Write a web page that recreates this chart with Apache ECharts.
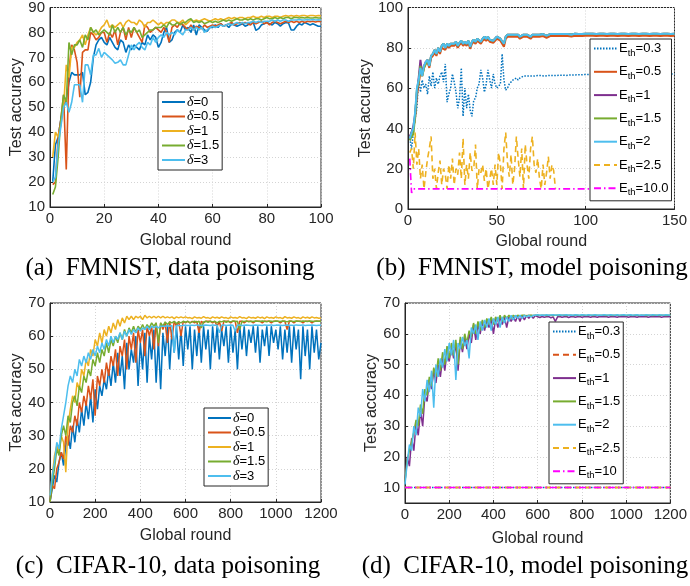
<!DOCTYPE html>
<html><head><meta charset="utf-8">
<script src="https://cdn.jsdelivr.net/npm/echarts@6/dist/echarts.min.js"></script>
<style>html,body{margin:0;padding:0;background:#fff}#c{width:690px;height:586px}</style>
</head><body><div id="c"></div>
<script>
// ---------- (a) FMNIST, data poisoning : rounds 1..100 ----------
const aD0 = [20,35,38,45,50,53,60,64,63,63, 63,64,55,56,60,70,75,77,78,76, 75,78,76,74,73,77,76,72,75,73, 75,74,73,76,75,79,77,79,78,74, 76,80,82,76,77,80,81,80,83,81, 82,80,83,79,83,82,81,80.5,82,82, 83,82,83.5,82.5,83,82,83.5,83,82.5,83, 83.5,82.5,83,84,84,80.8,81.5,83,83.5,84, 83.5,83,84,83.5,82.5,83.5,84,83.8,81,81, 82.5,83.5,83,84,83.5,83,83.5,83,82.5,82.5];
const aD05 = [19,20,38,45,55,25,65,75,73,68, 54,72,73,73,80,79,77,78,80,80, 76,80,78,81,75,80,82,77,82,78, 82,80,78,76,83,82,80,81,82,81, 80,82,80,76,82,83,82,84,83,82, 81,83,81,82.5,82,81.5,83,82,82.5,83, 82.5,83,83.5,82.5,83,83.5,84,83,83.5,84, 83.5,84,83.5,83,84,83.5,84,84.5,83.5,84, 83,84,84.5,84,83.5,84,84.5,84,84.5,84, 84.5,84,84.5,84,84.5,84.3,84.5,84.2,84.5,84.3];
const aD1 = [30,40,38,43,50,67,62,74,74,76, 77,79,75,79,82,80,79,80,82,83, 85,82,83,82,83,84,82,84,85,84, 84,83,85,84,82,84,84,85,84,83, 84,83,84,84,85,85,84,84,85,83, 84,85,84.5,85,84.5,85,85.5,85,84.5,85, 85.5,85,85.5,85,85.5,86,85.5,86,85.5,86, 86,85.5,86,86,86.5,86,86,86.5,86,86.5, 86.5,86,86.5,86.5,86,86.5,86.8,86.5,86.8,86.5, 86.8,86.5,86.8,86.8,86.5,86.8,86.8,86.6,86.8,86.7];
const aD15 = [15,18,30,45,55,52,76,71,75,75, 77,74,79,77,82,80,81,79,80,81, 80,79,83,80,82,80,82,79,81,80, 82,80,81,78,79,80,81,81,82,82, 82,83,82,84,83,83,84,83,84,84, 85,85.5,84,84.5,84,84.5,83.5,84,84.5,84, 84.5,84,84.5,85,84.5,85,84.5,85,85.5,85, 85,85.5,85,85.5,85,85.5,85.5,85,85.5,86, 85.5,85.5,86,85.5,86,85.5,86,86,85.5,86, 86,85.8,86,85.8,86,85.8,85.8,86,85.8,85.8];
const aD3 = [20,22,35,42,50,52,48,52,59,59, 59,52,67,67,63,71,71,73.6,70,72, 71,70,69,67.6,68,69,67,67,71,75, 73,75,76,74,73,76,75,78,76,78, 79,78,80,79,80,79,81,80,79,81, 81,82,81,82,81,82,80,81,82,82.5, 82,82.5,83,82.5,83,83.5,83,83.5,84,83.5, 84,83.5,84,84,84.5,84,84.5,84,84.5,84.5, 84.5,85,84.5,85,84.5,85,85,84.5,85,85, 85,85.2,85,85,85.2,85,85.2,85,85.1,85];

// ---------- (b) FMNIST, model poisoning : rounds 1..150 ----------
const bE03 = [35,30,38,45,50,65,58,64,60,62, 57,66,61,68,60,65,62,66,68,63, 72,53,57,60,67,63,58,50,55,70, 46,60,50,57,49,46,54,55,60,62, 69,65,58,62,69,64,60,67,62,60, 61,62,77,64,59,60,62,63,64,64, 65,64,65,65,66,65.5,66,66,66,66, 66,66,66.2,66,66.2,66.2,66,66.2,66.3,66.2, 66.3,66.3,66.2,66.3,66.4,66.3,66.4,66.4,66.3,66.4, 66.5,66.4,66.5,66.5,66.6,66.5,66.6,66.6,66.7,66.7, 66.7,66.8,66.8,66.8,66.8,66.9,66.9,66.9,66.9,67, 67,67,67,67,67,67,67,67,67,67, 67,67,67,67,67,67,67,67,67,67, 67,67,67,67,67,67,67,67,67,67, 67,67,67,67,67,67,67,67,67,67];
const bE05 = [35,38,40,45,56,62,68,66,70,72, 73,70,75,76,77.5,76,79,77,80,80.5, 79,81,80,81,80.5,81,82,80,81.5,82.5, 81,82,81,82.5,79.5,82,83,82,83.5,83, 82,83.5,84.5,83.5,84.5,83,83.5,82.5,83.5,84.5, 84,83.5,83,80.5,84.5,85.5,85,85.5,85,85.5, 85,85.5,84.5,85,85.5,85,85.5,85,84.5,85.5, 85,85.5,85,85.5,85,85.8,85.5,85,85.5,85.8, 85.5,85.8,85.5,85.8,85.6,85.8,85.5,85.8,85.8,85.8, 85.8,85.6,85.8,86,85.8,85.8,86,85.8,85.8,86, 85.9,86,85.9,86,86,85.9,86,86,85.9,86, 86,85.9,86,86,85.9,86,86,85.9,86,86, 85.9,86,86,85.9,86,86,85.9,86,86,85.9, 86,86,85.9,86,86,85.9,86,86,85.9,86, 86,85.9,86,86,85.9,86,86,85.9,86,86];
const bE1 = [36,38,41,47,58,65,74,67,71,73, 74,71,76,77,79,77,80,78,81,82, 80,82,81,82,81.5,82,83,81,82.5,83.5, 82,83,82,83.5,80.5,83,84,83,84.5,84, 83,84.5,85.5,84.5,85.5,84,84.5,83.5,84.5,85.5, 85,84.5,84,82,85.5,86.5,86,86.5,86,86.5, 86,86.5,85.5,86,86.5,86,86.5,86,85.5,86.5, 86,86.5,86,86.5,86,86.8,86.5,86,86.5,86.8, 86.5,86.8,86.5,86.8,86.6,86.8,86.5,86.8,86.8,86.8, 86.8,86.6,86.8,87,86.8,86.8,87,86.8,86.8,87, 86.9,87,86.9,87,87,86.9,87,87,86.9,87, 87,86.9,87,87,86.9,87,87,86.9,87,87, 86.9,87,87,86.9,87,87,86.9,87,87,86.9, 87,87,86.9,87,87,86.9,87,87,86.9,87, 87,86.9,87,87,86.9,87,87,86.9,87,87];
const bE15 = [34,36,37,46,59,63,71,66,70,72, 74,71,76,77,79,77,80,78,81,82, 80,82,81,82,81.5,82,83,81,82.5,83.5, 82,83,82,83.5,80.5,83,84,83,84.5,84, 83,84.5,85.5,84.5,85.5,84,84.5,83.5,84.5,85.5, 85,84.5,84,82,85.5,86.5,86,86.5,86,86.5, 86,86.5,85.5,86,86.5,86,86.5,86,85.5,86.5, 86,86.5,86,86.5,86,86.8,86.5,86,86.5,86.8, 86.5,86.8,86.5,86.8,86.6,86.8,86.5,86.8,86.8,86.8, 86.8,86.6,86.8,87,86.8,86.8,87,86.8,86.8,87, 86.9,87,86.9,87,87,86.9,87,87,86.9,87, 87,86.9,87,87,86.9,87,87,86.9,87,87, 86.9,87,87,86.9,87,87,86.9,87,87,86.9, 87,87,86.9,87,87,86.9,87,87,86.9,87, 87,86.9,87,87,86.9,87,87,86.9,87,87];
const bE2 = [35,38,40,48,60,64,70,66,71,73, 74,71,76,77,79,77,80,78,81,82, 80,82,81,82,81.5,82,83,81,82.5,83.5, 82,83,82,83.5,80.5,83,84,83,84.5,84, 83,84.5,85.5,84.5,85.5,84,84.5,83.5,84.5,85.5, 85,84.5,84,82,85.5,86.5,86,86.5,86,86.5, 86,86.5,85.5,86,86.5,86,86.5,86,85.5,86.5, 86,86.5,86,86.5,86,86.8,86.5,86,86.5,86.8, 86.5,86.8,86.5,86.8,86.6,86.8,86.5,86.8,86.8,86.8, 86.8,86.6,86.8,87,86.8,86.8,87,86.8,86.8,87, 86.9,87,86.9,87,87,86.9,87,87,86.9,87, 87,86.9,87,87,86.9,87,87,86.9,87,87, 86.9,87,87,86.9,87,87,86.9,87,87,86.9, 87,87,86.9,87,87,86.9,87,87,86.9,87, 87,86.9,87,87,86.9,87,87,86.9,87,87];
const bE25 = [28,30,20,38,22,30,15,22,10,18, 25,30,36,15,20,10,18,24,12,20, 17,10,22,15,25,12,20,17,28,15, 35,12,22,15,28,19,20,32,10,20, 18,22,14,20,10,15,20,12,22,12, 28,22,10,30,38,23,16,27,12,20, 36,25,16,30,10,32,22,15,30,36, 22,18,25,15,10,22,12,18,26,15, 22,19,10];
const bE10Rounds = [1,2,3,150];
const bE10 = [25,8,10,10];

// ---------- (c) CIFAR-10, data poisoning : rounds 0,10,...,1200 ----------
const cD0 = [10,14,18,16,22,25,21,27,30,26, 33,28,35,31,38,33,40,35,42,34, 44,38,45,42,47,44,50,45,52,46, 55,48,54,44,58,50,56,52,60,45, 58,50,61,46,60,53,62,46,59,44, 61,54,63,50,62,55,63,53,62,51, 63,56,63,50,62,54,63,52,63,56, 62,50,63,55,63,53,62,57,63,52, 63,55,62,50,63,56,63,54,62,58, 63,55,63,52,62,57,63,54,63,58, 62,56,63,53,62,55,63,52,63,56, 62,47,63,54,62,50,63,55,62,53, 58];
const cD05 = [10,15,14,20,22,25,23,30,27,33, 31,36,33,40,37,42,39,45,41,47, 36,48,45,50,46,52,48,54,51,56, 48,57,54,59,50,60,56,61,52,62, 58,62,54,63,60,63,56,64,57,64, 62,64,58,64.5,59,64.5,63,64.5,60,64.5, 64,64.5,64,64.5,64,64.5,61,64.5,64,64.5, 64.5,64.5,64,64.5,63,64.5,61.5,64.5,64.5,64.5, 64,64.5,64.5,61,64.5,64.5,64,64.5,64.5,64.5, 64,64.5,64.5,64.5,64,64.5,64.5,64.5,64,64.5, 64.5,64.5,64,64.5,64.5,62,64.5,64.5,64,64.5, 64.5,64.5,64,64.5,64.5,64.5,64,64.5,64.5,64.5, 64.5];
const cD1 = [12,18,24,27,25,30,28,19,33,38, 42,40,46,44,50,48,53,51,56,54, 59,57,61,58,62,60,63,61,64,62, 65,63,65.5,64,66,65,66,65,66,65.5, 66,65,66.3,65.5,66,65.5,66,65.5,66,65.5, 66,65.5,65.8,65.5,65.8,65.3,65.8,65.5,65.8,65.5, 65.8,65.5,65.6,65.3,65.8,65.5,65.6,65.4,65.9,65.5, 65.6,65.3,65.8,65.5,65.7,65.4,65.8,65.5,65.6,65.3, 65.8,65.5,65.6,65.4,65.9,65.5,65.6,65.3,65.8,65.5, 65.6,65.4,65.8,65.5,65.7,65.3,65.8,65.5,65.6,65.4, 65.8,65.5,65.6,65.3,65.9,65.5,65.6,65.4,65.8,65.5, 65.6,65.3,65.8,65.5,65.7,65.4,65.8,65.5,65.6,65.4, 65.5];
const cD15 = [10,16,20,26,24,30,33,30,36,34, 40,42,39,45,43,48,46,50,48,53, 51,55,52,56,54,58,55,59,57,60, 58,61,59,62,60,62.5,61,63,61,63, 62,63.5,62,63.5,62.5,64,63,64,58,64, 63,64.3,63.5,64.3,64,64.5,63.8,64.3,64,64.5, 64.2,64.5,64,64.3,64.5,64.2,64.5,62.5,64.3,64.5, 64.2,64.5,64.3,64.5,64,64.5,64.3,64.6,64.2,64.5, 64.3,64.6,64.4,64.5,62,64.5,64.4,64.6,64.3,64.5, 64.4,64.6,64.5,64.4,64.6,64.5,64.3,64.6,64.5,64.4, 64.6,64.5,64.4,64.6,64.5,64.3,64.6,64.5,64.4,64.6, 64.5,64.4,64.6,64.5,64.4,64.6,64.5,64.4,64.6,64.5, 64.5];
const cD3 = [12,18,22,28,26,32,36,40,45,48, 46,50,48,53,51,54,52,55,53,56, 54,57,55,58,56,59,57,60,58,60, 59,61,59,61.5,60,62,60.5,62,61,62.5, 61.5,62.5,62,63,62,63,62.5,63,62.5,63, 63,63,63.2,63,63.2,55,63.2,63.3,63.1,63.3, 63.3,63.2,63.3,63.3,63.2,63.4,63.3,63.2,63.3,63.4, 63.3,63.2,63.4,63.3,63.3,61,63.3,63.4,63.2,63.3, 63.4,63.3,61.5,63.3,63.4,63.2,63.3,63.4,63.3,63.2, 63.3,63.4,63.3,63.3,63.2,63.4,63.3,63.3,63.4,63.2, 63.3,63.4,63.3,63.2,63.3,63.4,63.3,63.3,63.2,63.4, 63.3,63.3,63.4,63.2,63.3,63.3,63.4,63.3,63.2,63.3, 63.3];

// ---------- (d) CIFAR-10, model poisoning : rounds 0,10,...,1200 ----------
const dE1 = [12,20,17,26,22,31,27,35,30,40, 38,45,42,48,44,50,46,52,48,54, 51,56,52,57,48,58,54,59,55,60, 57,63,58,63,60,64,61,64.5,62,65, 60,65,62,65.5,63,65.5,62,65.5,64,65.5, 64,66,64,66,64.5,66,65,66,65,66, 65.5,65.3,65.6,65.4,65.5,65.6,65.2,65.5,64,65.5, 65.6,65.4,65.5,65.6,65.3,65.5,65.6,65.4,65.5,65.6, 65.4,65.5,65.6,65.5,65.4,65.6,65.5,65.4,65.6,65.5, 65.5,65.6,65.4,65.5,65.6,65.5,65.4,65.6,65.5,65.5, 65.6,65.4,65.5,65.6,65.5,65.4,65.6,65.5,65.5,65.6, 65.4,65.5,65.6,65.5,65.5,65.6,65.4,65.5,65.6,65.5, 65.6];
const dE15 = [12,19,22,25,28,32,30,37,34,42, 40,46,43,49,46,52,48,54,50,56, 52,57,53,58,50,59,55,60,57,61, 59,63.5,60,64,61,64.5,62,65,63,65.5, 63,65.5,64,66,64,66,65,66,65,66, 65.5,66,65.8,66,66,65.8,66,66,65.9,66, 66,65.9,66,66,65.9,66,66,65.9,66,66, 65.9,66,66,65.9,66,66,65.9,66,66,65.9, 66,66,65.9,66,66,65.9,66,66,65.9,66, 66,65.9,66,66,65.9,66,66,65.9,66,66, 65.9,66,66,65.9,66,66,65.9,66,66,65.9, 66,66,65.9,66,66,65.9,66,66,65.9,66, 66];
const dE2 = [11,18,24,22,30,27,36,33,42,38, 45,41,48,36,50,46,52,49,55,51, 57,53,58,45,57,55,59,56,58,52, 62,60,63,58,64,61,64.5,62,65,61, 65,63,65.5,62,65.5,63.5,65.5,64,66,64.5, 66,65,66,65,66,65.5,66,65.5,66,66, 66.2,66,66.1,66,66.2,66,66.1,66.2,66,66.1, 66.2,66,66.1,66.2,66,66.1,66,66.2,66.1,66, 66.2,66.1,66,66.2,66,66.1,66.2,66,66.1,66, 66.2,66.1,66,66.2,66.1,66,66.2,66,66.1,66.2, 66,66.1,66.2,66,66.1,66.2,66,66.1,66,66.2, 66.1,66,66.2,66.1,66,66.2,66.1,66,66.2,66.1, 66];
const dFlatRounds = [0,1200];
const dE03 = [10,10];
const dE05 = [10,10];
const dE25 = [10,10];
const dE10 = [10,10];

// tick labels
const aXTicks = [0,20,40,60,80,100], aYTicks = [10,20,30,40,50,60,70,80,90];
const bXTicks = [0,50,100,150], bYTicks = [0,20,40,60,80,100];
const cXTicks = [0,200,400,600,800,1000,1200], cYTicks = [10,20,30,40,50,60,70];
const dXTicks = [0,200,400,600,800,1000,1200], dYTicks = [10,20,30,40,50,60,70];

const captions = ['(a)  FMNIST, data poisoning','(b)  FMNIST, model poisoning','(c)  CIFAR-10, data poisoning','(d)  CIFAR-10, model poisoning'];

// ---------- build ----------
const C = {blue:'#0072BD', orange:'#D95319', yellow:'#EDB120', purple:'#7E2F8E', green:'#77AC30', cyan:'#4DBEEE', mag:'#FF00FF'};
const seq = (n, f) => Array.from({length:n}, (_, i) => f(i));
const aRounds = seq(100, i => i + 1);
const bRounds = seq(150, i => i + 1);
const cRounds = seq(121, i => i * 10);
const zip = (xs, ys) => ys.map((v, i) => [xs[i], v]);

const labels = {
  a0:'{d|δ}=0', a05:'{d|δ}=0.5', a1:'{d|δ}=1', a15:'{d|δ}=1.5', a3:'{d|δ}=3',
  c0:'{d|δ}=0', c05:'{d|δ}=0.5', c1:'{d|δ}=1', c15:'{d|δ}=1.5', c3:'{d|δ}=3',
  b03:'E{s|th}=0.3', b05:'E{s|th}=0.5', b1:'E{s|th}=1', b15:'E{s|th}=1.5', b2:'E{s|th}=2', b25:'E{s|th}=2.5', b10:'E{s|th}=10.0',
  d03:'E{s|th}=0.3', d05:'E{s|th}=0.5', d1:'E{s|th}=1', d15:'E{s|th}=1.5', d2:'E{s|th}=2', d25:'E{s|th}=2.5', d10:'E{s|th}=10'
};

const FONT = 'Liberation Sans';
const TXT = '#262626';
function line(name, gi, data, color, width, type) {
  return {name, type:'line', xAxisIndex:gi, yAxisIndex:gi, data, symbol:'none', showSymbol:false,
    lineStyle:{color, width, type: type || 'solid'}, itemStyle:{color}, silent:true, animation:false, clip:true};
}
const DOT = [1.5,1.5], DASH = [6,4], DASHDOT = [7,3,1.5,3];

const series = [
  line('a0',0,zip(aRounds,aD0),C.blue,1.6), line('a05',0,zip(aRounds,aD05),C.orange,1.6),
  line('a1',0,zip(aRounds,aD1),C.yellow,1.6), line('a15',0,zip(aRounds,aD15),C.green,1.6),
  line('a3',0,zip(aRounds,aD3),C.cyan,1.6),
  line('b03',1,zip(bRounds,bE03),C.blue,1.5,DOT), line('b05',1,zip(bRounds,bE05),C.orange,2),
  line('b1',1,zip(bRounds,bE1),C.purple,2), line('b15',1,zip(bRounds,bE15),C.green,2),
  line('b2',1,zip(bRounds,bE2),C.cyan,2), line('b25',1,zip(bRounds,bE25),C.yellow,1.6,DASH),
  line('b10',1,zip(bE10Rounds,bE10),C.mag,1.6,DASHDOT),
  line('c0',2,zip(cRounds,cD0),C.blue,1.5), line('c05',2,zip(cRounds,cD05),C.orange,1.5),
  line('c1',2,zip(cRounds,cD1),C.yellow,1.5), line('c15',2,zip(cRounds,cD15),C.green,1.5),
  line('c3',2,zip(cRounds,cD3),C.cyan,1.5),
  line('d03',3,zip(dFlatRounds,dE03),C.blue,1.5,DOT), line('d05',3,zip(dFlatRounds,dE05),C.orange,1.5,DASH),
  line('d1',3,zip(cRounds,dE1),C.purple,1.5), line('d15',3,zip(cRounds,dE15),C.green,1.5),
  line('d2',3,zip(cRounds,dE2),C.cyan,1.5), line('d25',3,zip(dFlatRounds,dE25),C.yellow,1.5,DASH),
  line('d10',3,zip(dFlatRounds,dE10),C.mag,1.5,DASHDOT)
];

const grids = [
  {left:50, top:7, width:271, height:200},
  {left:408, top:7, width:268, height:202},
  {left:50, top:303, width:271, height:199},
  {left:405, top:303, width:271, height:200}
].map(g => Object.assign(g, {show:true, borderColor:TXT, borderWidth:1, backgroundColor:'#fff', containLabel:false}));

function xAxis(gi, ticks, nameGap) {
  return {type:'value', gridIndex:gi, min:ticks[0], max:ticks[ticks.length-1], interval:ticks[1]-ticks[0],
    name:'Global round', nameLocation:'middle', nameGap,
    nameTextStyle:{fontFamily:FONT, fontSize:16, color:TXT},
    axisLine:{show:true, onZero:false, lineStyle:{color:TXT}},
    axisTick:{show:true, inside:true, length:3, lineStyle:{color:TXT}},
    axisLabel:{fontFamily:FONT, fontSize:15, color:TXT, margin:4, showMinLabel:true, showMaxLabel:true, formatter: v => String(v)},
    splitLine:{show:true, lineStyle:{color:'#d4d4d4', type:[1,2], width:1}}};
}
function yAxis(gi, ticks, nameGap, min) {
  const o = {type:'value', gridIndex:gi, min: min !== undefined ? min : ticks[0], max:ticks[ticks.length-1],
    name:'Test accuracy', nameLocation:'middle', nameGap,
    nameTextStyle:{fontFamily:FONT, fontSize:16, color:TXT},
    axisLine:{show:true, onZero:false, lineStyle:{color:TXT}},
    axisTick:{show:true, inside:true, length:3, lineStyle:{color:TXT}},
    axisLabel:{fontFamily:FONT, fontSize:15, color:TXT, margin:5, formatter: v => String(v)},
    splitLine:{show:true, lineStyle:{color:'#d4d4d4', type:[1,2], width:1}}};
  if (min !== undefined) {
    o.axisTick.customValues = ticks;
    o.axisLabel.customValues = ticks;
  } else {
    o.interval = ticks[1]-ticks[0];
  }
  return o;
}

function legend(names, left, top, gap) {
  return {data:names, orient:'vertical', left, top, itemGap:gap, itemWidth:23, itemHeight:10,
    padding: [3,3,3,3], backgroundColor:'#fff', borderColor:TXT, borderWidth:1, borderRadius:0,
    selectedMode:false, formatter: n => labels[n],
    itemStyle:{color:'rgba(0,0,0,0)', borderColor:'rgba(0,0,0,0)', borderWidth:0, opacity:0},
    textStyle:{fontFamily:FONT, fontSize:13, color:'#000', padding:[0,0,0,-3],
      rich:{d:{fontFamily:'Liberation Serif', fontStyle:'italic', fontSize:14, color:'#000'},
            s:{fontFamily:FONT, fontSize:9.5, color:'#000', padding:[9,0,0,0]}}}};
}

const capY = [268, 268, 566, 566], capX = [170, 532, 168, 525];
const option = {
  backgroundColor:'#fff', animation:false,
  grid: grids,
  xAxis: [xAxis(0,aXTicks,26), xAxis(1,bXTicks,25), xAxis(2,cXTicks,26), xAxis(3,dXTicks,28)],
  yAxis: [yAxis(0,aYTicks,22), yAxis(1,bYTicks,27), yAxis(2,cYTicks,22), yAxis(3,dYTicks,22,5)],
  legend: [
    legend(['a0','a05','a1','a15','a3'], 158, 92, 0.5),
    legend(['b03','b05','b1','b15','b2','b25','b10'], 590, 39, 7.3),
    legend(['c0','c05','c1','c15','c3'], 204, 408, 0.5),
    legend(['d03','d05','d1','d15','d2','d25','d10'], 549, 322, 7.3)
  ],
  series,
  graphic: captions.map((t, i) => ({type:'text', x:capX[i], y:capY[i], silent:true,
    style:{text:t, font:'25px "Liberation Serif"', fill:'#000', align:'center', verticalAlign:'middle'}}))
};
const chart = echarts.init(document.getElementById('c'), null, {renderer:'canvas'});
chart.setOption(option);
</script></body></html>
